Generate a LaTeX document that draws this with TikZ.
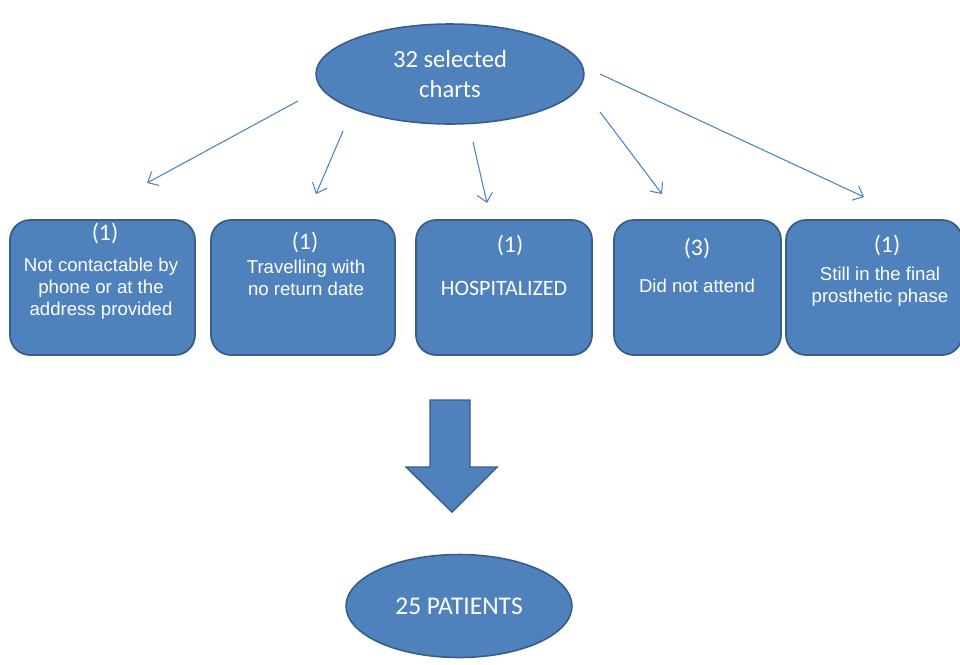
\documentclass[tikz,border=0pt]{standalone}
\usepackage{fontspec}
\setmainfont{Liberation Sans}
\newfontfamily\calfont{Carlito}
\usetikzlibrary{shapes.geometric,arrows.meta}
\definecolor{boxblue}{HTML}{4F81BD}
\definecolor{edgeblue}{HTML}{385D8A}
\tikzset{
  oval/.style={ellipse, fill=boxblue, draw=edgeblue, line width=0.9pt, text=white, align=center, inner sep=0pt},
  box/.style={rectangle, rounded corners=0.4cm, fill=boxblue, draw=edgeblue, line width=1pt, inner sep=0pt},
  cnt/.style={text=white, font=\calfont\fontsize{13.5}{16}\selectfont},
  txt/.style={text=white, align=center, font=\fontsize{10.6}{12.5}\selectfont},
  link/.style={draw=boxblue, line width=0.6pt, -{Straight Barb[length=5pt,width=9pt]}}
}
\def\makeBox#1#2#3{
\node[box, minimum width=#3*0.02cm, minimum height=2.7cm] (#1) at (#2,287.5) {};
}
\begin{document}
\begin{tikzpicture}[x=0.02cm, y=-0.02cm]
  \useasboundingbox (0,0) rectangle (960,664);
  \node[oval, minimum width=5.36cm, minimum height=2cm,
        font=\calfont\fontsize{14}{17}\selectfont] (top) at (450,74) {32 selected\\charts};
  % the five boxes
  \makeBox{b1}{102.5}{185}
  \makeBox{b2}{303}{184}
  \makeBox{b3}{504}{176}
  \makeBox{b4}{697.5}{167}
  \makeBox{b5}{874}{176}
  \node[cnt] (c1) at (105,233) {(1)};
  \node[txt] (t1) at (101,289) {Not contactable by\\phone or at the\\address provided};
  \node[cnt] (c2) at (305,242) {(1)};
  \node[txt] (t2) at (306,278) {Travelling with\\no return date};
  \node[cnt] (c3) at (510,245) {(1)};
  \node[cnt, font=\calfont\fontsize{12.5}{14}\selectfont] (t3) at (504,288) {HOSPITALIZED};
  \node[cnt] (c4) at (697,248) {(3)};
  \node[txt] (t4) at (697,286) {Did not attend};
  \node[cnt] (c5) at (887,245) {(1)};
  \node[txt] (t5) at (880,287) {Still in the final\\prosthetic phase};
  % thin arrows
  \coordinate (s1) at (298,101); \coordinate (e1) at (147,183);
  \coordinate (s2) at (343,131); \coordinate (e2) at (316,194);
  \coordinate (s3) at (473,142); \coordinate (e3) at (487,203);
  \coordinate (s4) at (600,112); \coordinate (e4) at (662,194);
  \coordinate (s5) at (600,74);  \coordinate (e5) at (864,197);
  \foreach \i in {1,...,5}
    \draw[link] (s\i) -- (e\i);
  % big arrow
  \coordinate (A1) at (430,400);
  \coordinate (A2) at (470,400);
  \coordinate (A3) at (470,467);
  \coordinate (A4) at (497,467);
  \coordinate (A5) at (452,512);
  \coordinate (A6) at (406,467);
  \coordinate (A7) at (430,467);
  \draw[fill=boxblue, draw=edgeblue, line width=0.8pt]
    (A1) -- (A2) -- (A3) -- (A4) -- (A5) -- (A6) -- (A7) -- cycle;
  \node[oval, minimum width=4.52cm, minimum height=2.06cm,
        font=\calfont\fontsize{14.5}{16}\selectfont] (bot) at (459,606) {25 PATIENTS};
\end{tikzpicture}
\end{document}
